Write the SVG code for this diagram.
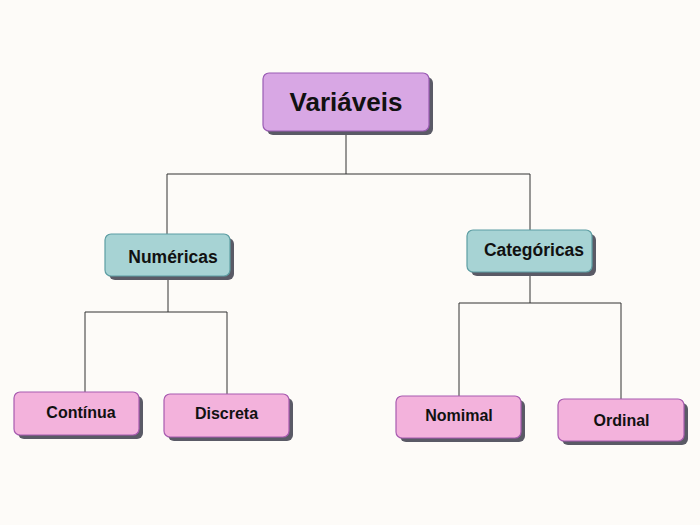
<svg xmlns="http://www.w3.org/2000/svg" width="700" height="525" viewBox="0 0 700 525">
<style>
.sh{fill:#5a5a66}
.p{fill:#d8a7e4;stroke:#9a5cb4;stroke-width:1.2}
.t{fill:#a7d3d4;stroke:#5d9ea3;stroke-width:1.2}
.k{fill:#f3b2dc;stroke:#a85bb0;stroke-width:1.2}
text{font-family:"Liberation Sans",Arial,sans-serif;font-weight:bold;fill:#111;text-anchor:middle}
.c{fill:none;stroke:#333;stroke-width:1}
</style>
<rect width="700" height="525" fill="#fdfbf8"/>
<g id="connectors">
<path class="c" d="M346 131V174M167 174H530M167 174V234M530 174V230"/>
<path class="c" d="M168 276V312M85 312H227M85 312V392M227 312V394"/>
<path class="c" d="M530 272V303M459 303H621M459 303V396M621 303V399"/>
</g>
<g id="variaveis">
<rect class="sh" x="267" y="77" width="166" height="58" rx="6"/>
<rect class="p" x="263" y="73" width="166" height="58" rx="6"/>
<text x="346" y="111" font-size="26">Variáveis</text>
</g>
<g id="numericas">
<rect class="sh" x="109" y="238" width="125" height="42" rx="6"/>
<rect class="t" x="105" y="234" width="125" height="42" rx="6"/>
<text x="173" y="263" font-size="17.5">Numéricas</text>
</g>
<g id="categoricas">
<rect class="sh" x="471" y="234" width="125" height="42" rx="6"/>
<rect class="t" x="467" y="230" width="125" height="42" rx="6"/>
<text x="534" y="256" font-size="17.5">Categóricas</text>
</g>
<g id="continua">
<rect class="sh" x="18" y="396" width="125" height="43" rx="6"/>
<rect class="k" x="14" y="392" width="125" height="43" rx="6"/>
<text x="81" y="418" font-size="16">Contínua</text>
</g>
<g id="discreta">
<rect class="sh" x="168" y="398" width="125" height="43" rx="6"/>
<rect class="k" x="164" y="394" width="125" height="43" rx="6"/>
<text x="226.5" y="419" font-size="16">Discreta</text>
</g>
<g id="nomimal">
<rect class="sh" x="400" y="400" width="125" height="42" rx="6"/>
<rect class="k" x="396" y="396" width="125" height="42" rx="6"/>
<text x="459" y="421" font-size="16">Nomimal</text>
</g>
<g id="ordinal">
<rect class="sh" x="562" y="403" width="126" height="42" rx="6"/>
<rect class="k" x="558" y="399" width="126" height="42" rx="6"/>
<text x="621.5" y="426" font-size="16">Ordinal</text>
</g>
</svg>
